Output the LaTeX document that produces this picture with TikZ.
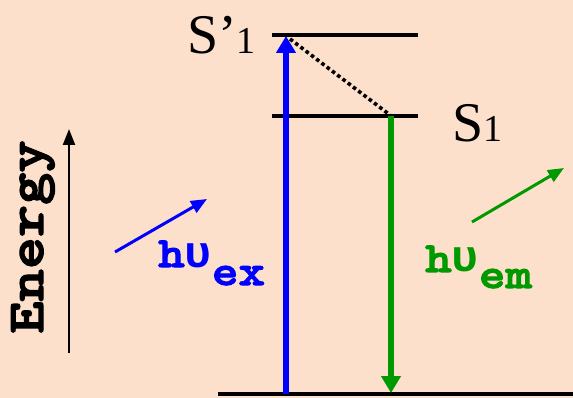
\documentclass[tikz,border=0pt]{standalone}
\usepackage{fontspec}
\setmainfont{Liberation Serif}
\newfontfamily\grk{Liberation Mono}
\newfontfamily\courb[FakeBold=2.5,FakeStretch=1.18]{lmmonolt10-bold.otf}
\usetikzlibrary{arrows.meta}
\definecolor{bgpeach}{RGB}{253,224,204}
\definecolor{emgreen}{RGB}{0,153,0}
\tikzset{
  level/.style={line width=3.2pt},
  lbl/.style={inner sep=0pt, anchor=base west},
  hv/.style={lbl, font=\courb\fontsize{43}{43}\selectfont},
}
\newcommand{\ups}{{\grk\bfseries\fontsize{45}{45}\selectfont υ}}
\begin{document}
\begin{tikzpicture}[x=1pt,y=-1pt]
\fill[bgpeach] (0,0) rectangle (573,398);
\useasboundingbox (0,0) rectangle (573,398);
% levels
\coordinate (sp1L) at (272,35);
\coordinate (sp1R) at (418,35);
\coordinate (s1L) at (272,116);
\coordinate (s1R) at (418,116);
\coordinate (gL) at (218,394);
\coordinate (gR) at (573,394);
\draw[level] (sp1L) -- (sp1R);
\draw[level] (s1L) -- (s1R);
\draw[level] (gL) -- (gR);
% state labels
\node[lbl, font=\fontsize{56}{56}\selectfont] (sp1) at (187,54) {S’\fontsize{38}{38}\selectfont 1};
\node[lbl, font=\fontsize{56}{56}\selectfont] (s1) at (452,142) {S\fontsize{38}{38}\selectfont 1};
% excitation
\coordinate (exB) at (286,394);
\coordinate (exT) at (286,36);
\draw[blue, line width=6pt, -{Triangle[length=17pt,width=19pt]}] (exB) -- (exT);
% relaxation
\coordinate (relA) at (290,39);
\coordinate (relB) at (390,115);
\draw[line width=3.6pt, dash pattern=on 3.6pt off 3pt] (relA) -- (relB);
% emission
\coordinate (emT) at (391,116);
\coordinate (emB) at (391,393);
\draw[emgreen, line width=5.5pt, -{Triangle[length=17pt,width=19pt]}] (emT) -- (emB);
% energy axis
\coordinate (enB) at (69,353);
\coordinate (enT) at (69,129);
\draw[line width=2.2pt, -{Triangle[length=16pt,width=12pt]}] (enB) -- (enT);
\node[inner sep=0pt, anchor=base, rotate=90, font=\courb\fontsize{52}{52}\selectfont] (energy) at (43,237) {Energy};
% photon arrows
\coordinate (pexA) at (115,252);
\coordinate (pexB) at (207,199);
\draw[blue, line width=3pt, -{Triangle[length=16pt,width=13pt]}] (pexA) -- (pexB);
\coordinate (pemA) at (472,222);
\coordinate (pemB) at (564,168);
\draw[emgreen, line width=3pt, -{Triangle[length=16pt,width=13pt]}] (pemA) -- (pemB);
% photon labels
\node[hv, text=blue] (hvex) at (158,267) {h\ups\raisebox{-18pt}{ex}};
\node[hv, text=emgreen] (hvem) at (425,272) {h\ups\raisebox{-16pt}{em}};
\end{tikzpicture}
\end{document}
